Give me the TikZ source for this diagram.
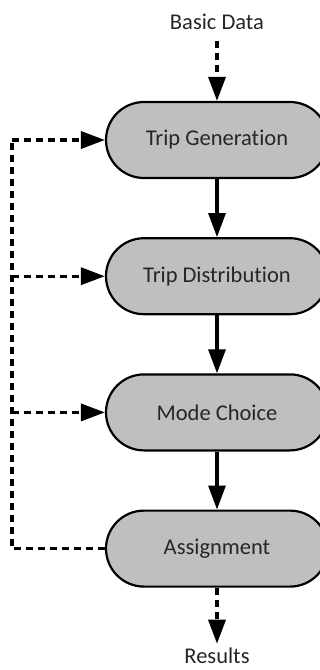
\documentclass[tikz,border=0pt]{standalone}
\usepackage{fontspec}
\setmainfont{Carlito}[Ligatures=NoCommon]
\usetikzlibrary{positioning,arrows.meta}

\begin{document}
\begin{tikzpicture}[x=1pt, y=-1pt, >={Triangle[length=24pt,width=17pt]},
    stage/.style={draw, line width=2.2pt, fill=gray!50, rounded corners=38pt,
      minimum width=222pt, minimum height=76pt, font=\fontsize{22.5}{27}\selectfont, text=black!85},
    label/.style={font=\fontsize{22.5}{27}\selectfont, text=black!85, inner sep=0pt, anchor=base},
    flow/.style={->, line width=3.2pt},
    feed/.style={line width=3.4pt, dash pattern=on 7pt off 5pt}]
    \useasboundingbox (0,0) rectangle (320,670);

    % model stages
    \node[stage] (gen) at (217,140) {Trip Generation};
    \node[stage, below=58pt of gen] (dist) {Trip Distribution};
    \node[stage, below=58pt of dist] (mode) {Mode Choice};
    \node[stage, below=58pt of mode] (asg) {Assignment};

    % input and output
    \node[label] (data) at (217,29) {Basic Data};
    \node[label] (res) at (217,663) {Results};

    \draw[feed, ->] (data.south) ++(0,12) coordinate (din) -- (gen.north);
    \draw[feed, ->] (asg.south) -- ++(0,56) coordinate (rout);

    % main sequence
    \draw[flow] (gen) -- (dist);
    \draw[flow] (dist) -- (mode);
    \draw[flow] (mode) -- (asg);

    % feedback loop
    \coordinate (loop) at ([xshift=-93pt]asg.west);
    \draw[feed] (asg.west) -- (loop) -- (loop |- gen.west);
    \draw[feed, ->] (loop |- gen.west) -- (gen.west);
    \draw[feed, ->] (loop |- dist.west) -- (dist.west);
    \draw[feed, ->] (loop |- mode.west) -- (mode.west);
\end{tikzpicture}
\end{document}
